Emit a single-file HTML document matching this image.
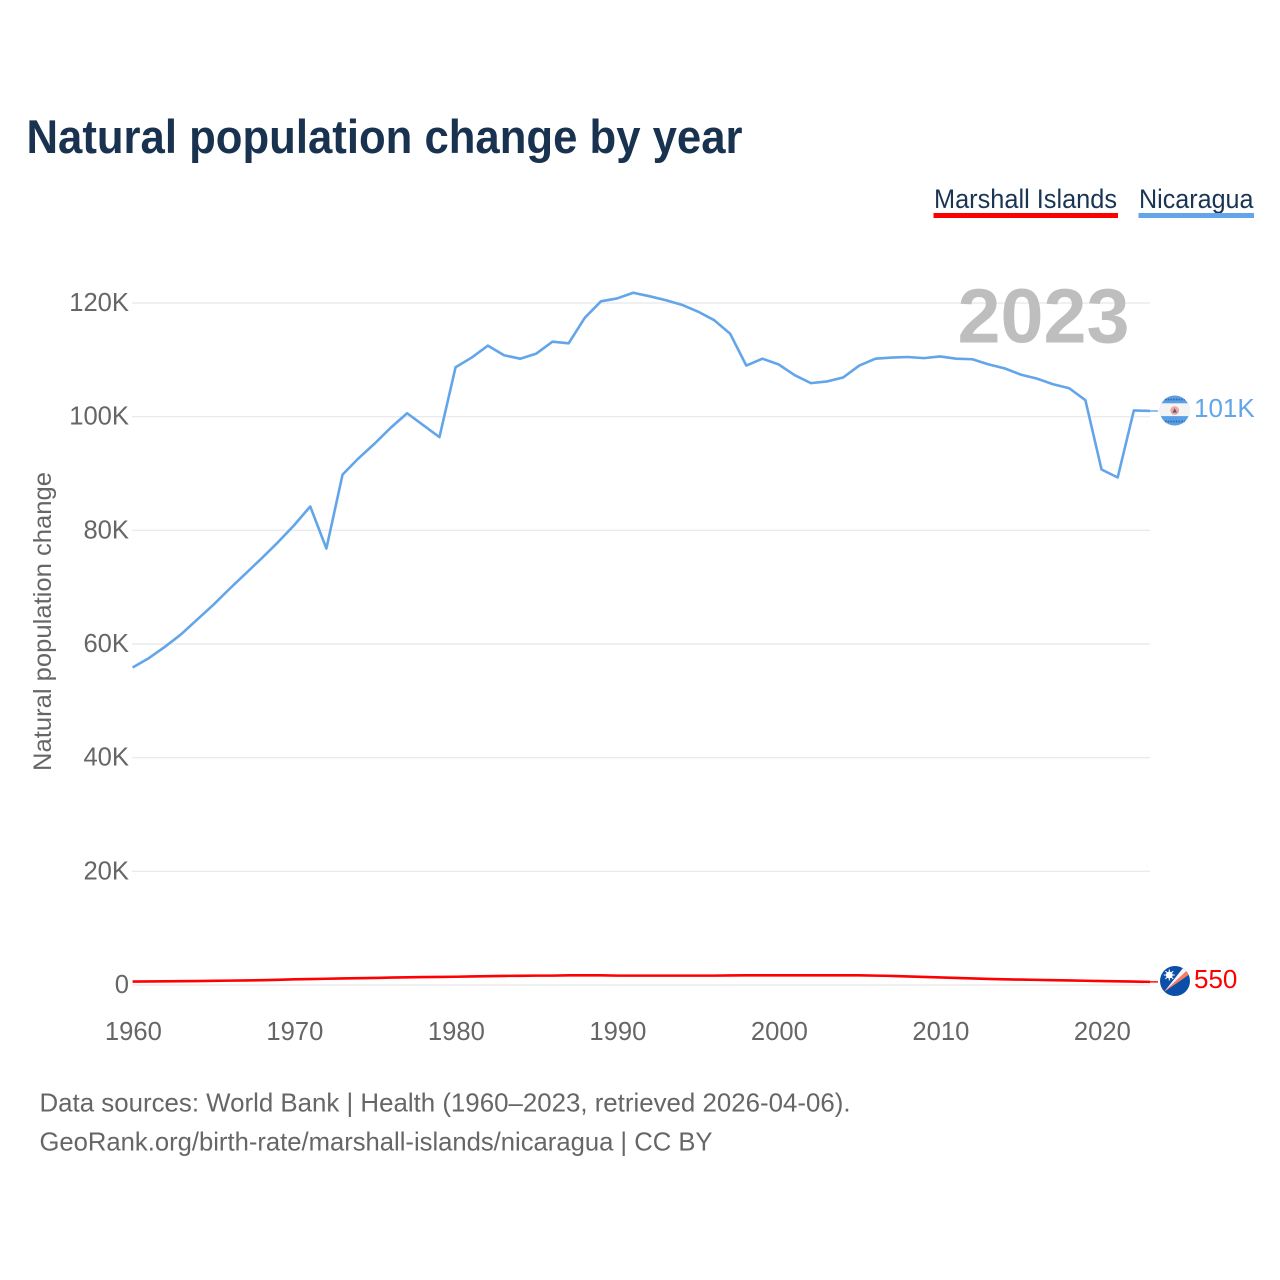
<!DOCTYPE html>
<html lang="en">
<head>
<meta charset="utf-8">
<title>Natural population change by year</title>
<style>
html,body{margin:0;padding:0;background:#fff;width:1280px;height:1280px;overflow:hidden}
svg{display:block;font-family:"Liberation Sans",sans-serif}
</style>
</head>
<body>
<svg id="chart" xmlns="http://www.w3.org/2000/svg" width="1280" height="1280" viewBox="0 0 1280 1280">
  <defs>
    <clipPath id="clip-nic"><circle cx="1174.7" cy="410.5" r="15"/></clipPath>
    <clipPath id="clip-mhl"><circle cx="1175" cy="981" r="15"/></clipPath>
  </defs>
  <rect width="1280" height="1280" fill="#fff"/>
  <text x="26.5" y="153" font-size="47" font-weight="700" fill="#18324f" textLength="716" lengthAdjust="spacingAndGlyphs">Natural population change by year</text>

  <g>
    <text x="934" y="208" font-size="27" fill="#1a3554" textLength="183" lengthAdjust="spacingAndGlyphs">Marshall Islands</text>
    <rect x="933.5" y="213" width="184.5" height="5" fill="#ff0000"/>
  </g>
  <g>
    <text x="1139" y="208" font-size="27" fill="#1a3554" textLength="114.5" lengthAdjust="spacingAndGlyphs">Nicaragua</text>
    <rect x="1138.5" y="213" width="115.5" height="5" fill="#62a5e9"/>
  </g>

  <text transform="translate(51,771) rotate(-90)" font-size="25" fill="#666" textLength="299" lengthAdjust="spacingAndGlyphs">Natural population change</text>

  <g id="grid-layer"></g>
  <g id="y-tick-layer"></g>
  <g id="x-tick-layer"></g>

  <text id="year-label" x="957.5" y="342.5" font-size="77" font-weight="700" fill="#bcbcbc" fill-opacity="0.97" textLength="172" lengthAdjust="spacingAndGlyphs">2023</text>

  <g id="series-layer"></g>

  <g id="flag-nicaragua" clip-path="url(#clip-nic)">
    <rect x="1159" y="395" width="32" height="32" fill="#5a9fe3"/>
    <rect x="1159" y="403.3" width="32" height="12.8" fill="#f4f4f4"/>
    <line x1="1165" y1="399.5" x2="1185" y2="399.5" stroke="#2f68b4" stroke-width="1.8" stroke-dasharray="1.5 1.2"/>
    <line x1="1165" y1="421.5" x2="1185" y2="421.5" stroke="#2f68b4" stroke-width="1.8" stroke-dasharray="1.5 1.2"/>
    <circle cx="1174.7" cy="410.5" r="4.4" fill="#f3a79c"/>
    <path d="M1172.4 412.6 L1174.7 408.2 L1177 412.6 Z" fill="#44618f"/>
  </g>
  <g id="flag-marshall" clip-path="url(#clip-mhl)">
    <rect x="1159" y="965" width="32" height="32" fill="#0b4fa8"/>
    <path d="M1164 992 L1183 968 L1187 970.5 Z" fill="#f7f7f7"/>
    <path d="M1164 992 L1187 970.5 L1190 974 Z" fill="#fb7b62"/>
    <circle cx="1169.3" cy="975" r="3.4" fill="#fff"/>
    <path d="M1169.3 969.5 V980.5 M1163.8 975 H1174.8 M1165.4 971.1 L1173.2 978.9 M1173.2 971.1 L1165.4 978.9" stroke="#fff" stroke-width="1.1"/>
  </g>

  <text id="end-label-nicaragua" x="1194" y="417" font-size="26" fill="#62a5e9"></text>
  <text id="end-label-marshall" x="1194" y="988" font-size="26" fill="#ff0000"></text>

  <text x="39.5" y="1111.5" font-size="26" fill="#666" textLength="811" lengthAdjust="spacingAndGlyphs">Data sources: World Bank | Health (1960–2023, retrieved 2026-04-06).</text>
  <text x="39.5" y="1150.5" font-size="26" fill="#666" textLength="673" lengthAdjust="spacingAndGlyphs">GeoRank.org/birth-rate/marshall-islands/nicaragua | CC BY</text>
</svg>
<script>
const startYear = 1960;
const nicaraguaValues = [
  55860,57500,59500,61700,64300,66900,69700,72400,75100,77900,
  80900,84200,76800,89800,92700,95300,98100,100600,98500,96400,
  108700,110400,112500,110800,110200,111100,113200,112900,117400,120300,
  120800,121800,121200,120500,119700,118500,117000,114600,109000,110200,
  109200,107300,105900,106200,106900,109000,110200,110400,110500,110300,
  110600,110200,110100,109200,108500,107400,106700,105700,105000,102900,
  90700,89300,101100,101000
];
const marshallValues = [
  600,620,650,680,700,730,770,800,850,920,
  1000,1050,1100,1150,1200,1250,1300,1350,1400,1420,
  1450,1500,1550,1600,1620,1650,1650,1700,1700,1700,
  1650,1650,1650,1650,1650,1650,1650,1680,1700,1700,
  1700,1700,1700,1700,1700,1700,1650,1600,1500,1420,
  1330,1250,1150,1070,1000,950,900,850,800,750,
  700,650,600,550
];
const yTickValues = [0,20000,40000,60000,80000,100000,120000];
const yTickLabels = ["0","20K","40K","60K","80K","100K","120K"];
const xTickYears = [1960,1970,1980,1990,2000,2010,2020];
const endLabelNicaragua = "101K";
const endLabelMarshall = "550";

const NS = "http://www.w3.org/2000/svg";
function xScale(year){ return 132.6 + (year - 1960) * (1150 - 132.6) / 63; }
function yScale(value){ return 985 - value * (985 - 303) / 120000; }

const gridLayer = document.getElementById("grid-layer");
const yTickLayer = document.getElementById("y-tick-layer");
const xTickLayer = document.getElementById("x-tick-layer");
const seriesLayer = document.getElementById("series-layer");

yTickValues.forEach(function(v, i){
  const line = document.createElementNS(NS, "line");
  line.setAttribute("x1", 132);
  line.setAttribute("x2", 1150);
  line.setAttribute("y1", yScale(v));
  line.setAttribute("y2", yScale(v));
  line.setAttribute("stroke", "#ebebeb");
  line.setAttribute("stroke-width", 1.4);
  
  
  gridLayer.appendChild(line);

  const t = document.createElementNS(NS, "text");
  t.setAttribute("x", 129);
  t.setAttribute("y", yScale(v) + 8);
  t.setAttribute("text-anchor", "end");
  t.setAttribute("font-size", "25.6");
  t.setAttribute("fill", "#666");
  t.textContent = yTickLabels[i];
  
  
  yTickLayer.appendChild(t);
});

xTickYears.forEach(function(year){
  const t = document.createElementNS(NS, "text");
  t.setAttribute("x", xScale(year) + 0.8);
  t.setAttribute("y", 1040);
  t.setAttribute("text-anchor", "middle");
  t.setAttribute("font-size", "25.6");
  t.setAttribute("fill", "#666");
  t.textContent = String(year);
  
  
  xTickLayer.appendChild(t);
});

function linePath(values){
  return values.map(function(v, i){
    return (i ? "L" : "M") + xScale(startYear + i).toFixed(2) + " " + yScale(v).toFixed(2);
  }).join(" ");
}

const nicLine = document.createElementNS(NS, "path");
nicLine.setAttribute("d", linePath(nicaraguaValues));
nicLine.setAttribute("fill", "none");
nicLine.setAttribute("stroke", "#62a5e9");
nicLine.setAttribute("stroke-width", 2.6);
nicLine.setAttribute("stroke-linejoin", "round");


seriesLayer.appendChild(nicLine);

const mhlLine = document.createElementNS(NS, "path");
mhlLine.setAttribute("d", linePath(marshallValues));
mhlLine.setAttribute("fill", "none");
mhlLine.setAttribute("stroke", "#ff0000");
mhlLine.setAttribute("stroke-width", 2.6);
mhlLine.setAttribute("stroke-linejoin", "round");


seriesLayer.appendChild(mhlLine);

const nicLast = yScale(nicaraguaValues[nicaraguaValues.length - 1]);
const nicConnector = document.createElementNS(NS, "line");
nicConnector.setAttribute("x1", 1150);
nicConnector.setAttribute("x2", 1158);
nicConnector.setAttribute("y1", nicLast);
nicConnector.setAttribute("y2", nicLast);
nicConnector.setAttribute("stroke", "#62a5e9");
nicConnector.setAttribute("stroke-width", 1.4);


seriesLayer.appendChild(nicConnector);

const mhlLast = yScale(marshallValues[marshallValues.length - 1]);
const mhlConnector = document.createElementNS(NS, "line");
mhlConnector.setAttribute("x1", 1150);
mhlConnector.setAttribute("x2", 1158);
mhlConnector.setAttribute("y1", mhlLast);
mhlConnector.setAttribute("y2", mhlLast);
mhlConnector.setAttribute("stroke", "#ff0000");
mhlConnector.setAttribute("stroke-width", 1.4);


seriesLayer.appendChild(mhlConnector);

document.getElementById("end-label-nicaragua").textContent = endLabelNicaragua;
document.getElementById("end-label-marshall").textContent = endLabelMarshall;
</script>
</body>
</html>
